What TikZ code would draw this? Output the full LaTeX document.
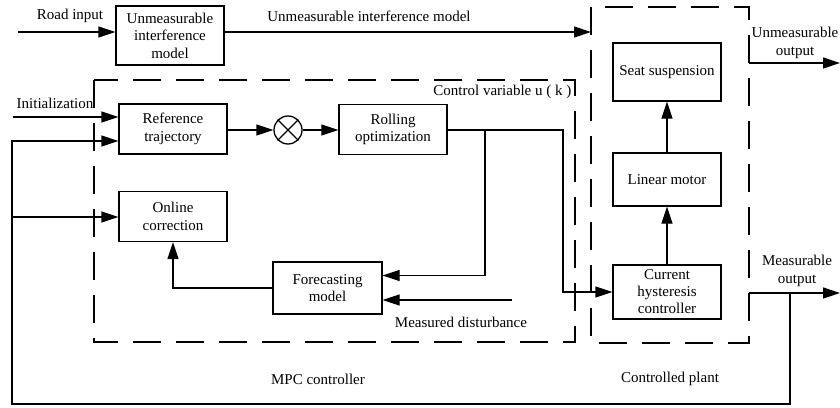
\documentclass[tikz,border=0pt]{standalone}
\usepackage{fontspec}
\setmainfont{Liberation Serif}
\usetikzlibrary{arrows.meta,positioning}

\begin{document}
\begin{tikzpicture}[x=1pt,y=-1pt,line width=1.3pt,
    >={Triangle[length=17pt,width=11pt]},
    txt/.style={font=\fontsize{15}{17.5}\selectfont},
    blk/.style={draw,txt,align=center,minimum width=108pt,minimum height=50pt,inner sep=0pt},
    lbl/.style={txt,align=center,inner sep=0pt},
    dashbox/.style={draw,dash pattern=on 28pt off 15pt}]
\useasboundingbox (0,0) rectangle (840,407);

% dashed frames
\draw[dashbox] (94,80) rectangle (575,342);
\draw[dashbox] (591,7) rectangle (749,343);

% blocks
\node[blk,minimum height=59pt] (dist) at (170,35.5) {Unmeasurable\\interference\\model};
\node[blk] (ref) at (173,129) {Reference\\trajectory};
\node[circle,draw,minimum size=28pt,inner sep=0pt] (sum) at (288,130) {};
\draw (sum.north west) -- (sum.south east) (sum.north east) -- (sum.south west);
\node[blk] (roll) at (393,129.5) {Rolling\\optimization};
\node[blk] (corr) at (173,216.5) {Online\\correction};
\node[blk,minimum width=109pt,minimum height=52pt] (fore) at (327.5,288) {Forecasting\\model};
\node[blk,minimum height=58pt] (seat) at (667,72) {Seat suspension};
\node[blk,minimum height=53pt] (motor) at (667,179.5) {Linear motor};
\node[blk,minimum height=54pt,font=\fontsize{15}{17}\selectfont] (hyst) at (667,292) {Current\\hysteresis\\controller};

% free ends
\coordinate (road) at (18,32);
\coordinate (plantin) at (591,32);
\coordinate (init) at (13,117);
\coordinate (br) at (485,130);
\coordinate (uk) at (563,130);
\coordinate (meas) at (512,300);
\coordinate (uout) at (749,63);
\coordinate (uend) at (840,63);
\coordinate (mout) at (749,293);
\coordinate (mend) at (840,293);
\coordinate (fb) at (790,293);
\coordinate (fbL) at (12,404);
\coordinate (fbR) at (12,141);
\coordinate (fbC) at (12,217);

% labels
\node[lbl] (roadlbl) at (70,16) {Road input};
\node[lbl] (distlbl) at (369,16) {Unmeasurable interference model};
\node[lbl] (initlbl) at (55,103) {Initialization};
\node[lbl,anchor=east] (uklbl) at (572,92) {Control variable u ( k )};
\node[lbl] (measlbl) at (461,322) {Measured disturbance};
\node[lbl] (uoutlbl) at (795,43) {Unmeasurable\\output};
\node[lbl] (moutlbl) at (797,271) {Measurable\\output};
\node[lbl] (mpclbl) at (318,379) {MPC controller};
\node[lbl] (plantlbl) at (670,379) {Controlled plant};

% connectors
\draw[->] (road) -- (road -| dist.west);
\draw[->] (dist.east |- road) -- (plantin);
\draw[->] (init) -- (init -| ref.west);
\draw[->] (ref.east |- sum) -- (sum);
\draw[->] (sum) -- (sum -| roll.west);
\draw[->] (roll.east |- uk) -- (uk) |- (hyst.west);
\draw[->] (br) |- ([yshift=12.5pt]fore.east);
\draw[->] (meas) -- (meas -| fore.east);
\draw[->] (fore.west) -| (corr.south);
\draw[->] (hyst) -- (motor);
\draw[->] (motor) -- (seat);
\draw[->] (uout) -- (uend);
\draw[->] (mout) -- (mend);
\draw[->] (fb) |- (fbL) -- (fbR) -- (fbR -| ref.west);
\draw[->] (fbC) -- (fbC -| corr.west);
\end{tikzpicture}
\end{document}
